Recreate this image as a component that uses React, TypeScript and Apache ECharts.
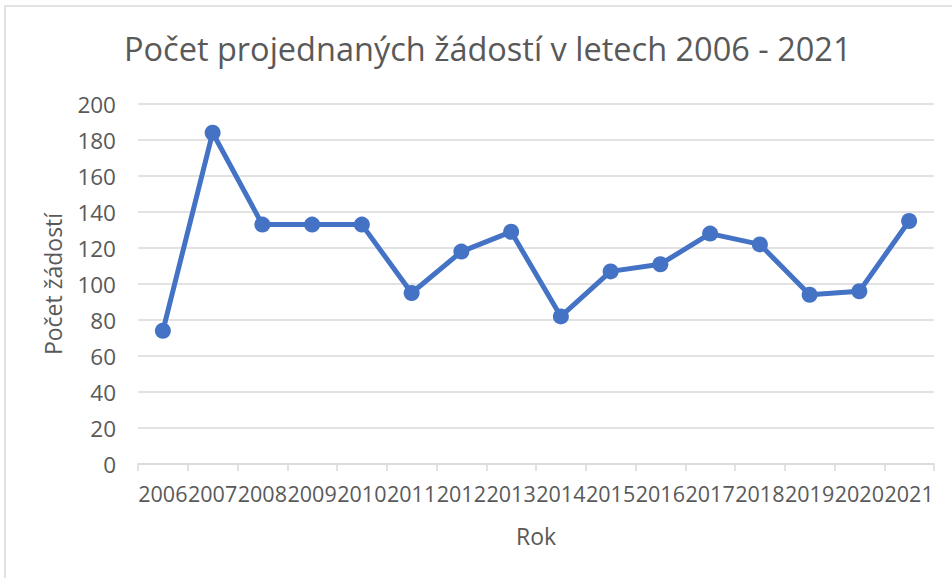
import React, { useEffect, useRef } from "react";
import * as echarts from "echarts";

const years: string[] = ["2006", "2007", "2008", "2009", "2010", "2011", "2012", "2013", "2014", "2015", "2016", "2017", "2018", "2019", "2020", "2021"];
const counts: number[] = [74, 184, 133, 133, 133, 95, 118, 129, 82, 107, 111, 128, 122, 94, 96, 135];
const yTicks = { min: 0, max: 200, interval: 20 };

const TITLE = "Počet projednaných žádostí v letech 2006 - 2021";
const X_NAME = "Rok";
const Y_NAME = "Počet žádostí";

const FONT = "'Open Sans', 'Noto Sans', sans-serif";
const TEXT = "#595959";
const GRID = "#d9d9d9";

export default function App() {
  const ref = useRef<HTMLDivElement>(null);
  useEffect(() => {
    if (!ref.current) return;
    const chart = echarts.init(ref.current, null, { renderer: "svg" });
    chart.setOption({
      animation: false,
      backgroundColor: "#ffffff",
      textStyle: { fontFamily: FONT },
      title: {
        text: TITLE,
        left: 119,
        top: 27,
        textStyle: { fontFamily: FONT, fontSize: 32.5, fontWeight: "normal", color: TEXT },
      },
      graphic: [
        {
          type: "rect",
          shape: { x: 5, y: 6, width: 1000, height: 700 },
          style: { fill: "none", stroke: GRID, lineWidth: 1.5 },
          silent: true,
          z: -1,
        },
      ],
      grid: { left: 138, right: 18, top: 104, bottom: 114, containLabel: false },
      xAxis: {
        type: "category",
        data: years,
        boundaryGap: true,
        name: X_NAME,
        nameLocation: "middle",
        nameGap: 60,
        nameTextStyle: { fontFamily: FONT, fontSize: 23, color: TEXT },
        axisLine: { show: true, lineStyle: { color: GRID, width: 1.5 } },
        axisTick: { show: true, length: 7, lineStyle: { color: GRID, width: 1.5 } },
        axisLabel: { fontFamily: FONT, fontSize: 21.5, color: TEXT, margin: 18, interval: 0 },
        splitLine: { show: false },
      },
      yAxis: {
        type: "value",
        min: yTicks.min,
        max: yTicks.max,
        interval: yTicks.interval,
        name: Y_NAME,
        nameLocation: "middle",
        nameGap: 74,
        nameRotate: 90,
        nameTextStyle: { fontFamily: FONT, fontSize: 23, color: TEXT },
        axisLine: { show: false },
        axisTick: { show: false },
        axisLabel: { fontFamily: FONT, fontSize: 22.5, color: TEXT, margin: 22 },
        splitLine: { show: true, lineStyle: { color: GRID, width: 1.5 } },
      },
      series: [
        {
          type: "line",
          data: counts,
          lineStyle: { color: "#4472C4", width: 5 },
          itemStyle: { color: "#4472C4" },
          symbol: "circle",
          symbolSize: 16,
          showSymbol: true,
        },
      ],
    });
    return () => chart.dispose();
  }, []);
  return (
    <div
      ref={ref}
      style={{ position: "fixed", left: 0, top: 0, width: 952, height: 578 }}
    />
  );
}
